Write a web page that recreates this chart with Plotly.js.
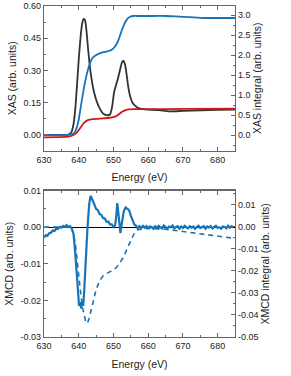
<!DOCTYPE html>
<html><head><meta charset="utf-8">
<script src="https://cdn.plot.ly/plotly-3.0.1.min.js"></script>
<style>body{margin:0;padding:0;background:#fff}#g{width:291px;height:376px}</style>
</head><body><div id="g"></div>
<script>
// XAS (left axis, top panel)
const xasE = [630,634,637,637.8,638.5,639,639.5,640,640.5,641,641.4,641.8,642.2,642.7,643.2,643.7,644.4,645.2,646,647,648,649,649.6,650.2,650.8,651.4,652,652.5,652.9,653.3,653.8,654.3,654.8,655.5,656.3,657.2,658.5,660,663,666,670,675,680,685];
const xasV = [0.000,0.000,0.002,0.010,0.050,0.120,0.230,0.350,0.450,0.520,0.540,0.535,0.490,0.400,0.320,0.260,0.200,0.155,0.125,0.100,0.092,0.095,0.130,0.200,0.235,0.270,0.310,0.340,0.345,0.330,0.280,0.220,0.180,0.150,0.135,0.125,0.120,0.118,0.116,0.110,0.112,0.115,0.117,0.118];
// step function (left axis, top panel)
const stepE = [630,634,637,638.5,639.5,640.5,641.5,642.5,643.5,645,647,649,650.5,651.5,652.5,653.5,654.5,656,660,670,685];
const stepV = [-0.011,-0.010,-0.008,0.000,0.012,0.034,0.056,0.068,0.072,0.075,0.077,0.080,0.085,0.095,0.108,0.116,0.119,0.120,0.120,0.121,0.122];
// XAS integral (right axis, top panel)
const intE = [630,636,637.5,638.4,638.9,639.4,639.9,640.4,640.9,641.4,641.9,642.4,642.9,643.4,643.9,644.6,645.4,646.2,646.9,648,648.9,649.6,650.4,650.9,651.4,651.9,652.4,652.9,653.4,654,654.8,655.8,656.8,660,665,668,672,676,680,685];
const intV = [0.00,0.00,0.01,0.03,0.08,0.18,0.34,0.60,0.87,1.13,1.36,1.55,1.71,1.83,1.92,1.98,2.02,2.05,2.07,2.09,2.11,2.14,2.21,2.28,2.37,2.49,2.62,2.73,2.83,2.91,2.96,2.98,2.98,2.98,2.98,2.97,2.95,2.93,2.93,2.93];
// XMCD (left axis, bottom panel)
const mcdE = [630,630.5,631,631.5,632,632.5,633,633.5,634,634.5,635,635.5,636,636.5,637,637.5,638,638.5,639,639.5,639.8,640.1,640.4,640.7,641,641.3,641.6,642,642.5,643,643.4,643.8,644.2,644.6,645,645.5,646,646.5,647,647.5,648,648.5,649,649.5,650,650.5,650.8,651.1,651.4,651.7,652,652.3,652.7,653,653.5,654,654.5,655,655.5,656,656.5,657,657.5,658,658.5,659,659.5,660,660.5,661,661.5,662,662.5,663,663.5,664,664.5,665,665.5,666,666.5,667,667.5,668,668.5,669,669.5,670,670.5,671,671.5,672,672.5,673,673.5,674,674.5,675,675.5,676,676.5,677,677.5,678,678.5,679,679.5,680,680.5,681,681.5,682,682.5,683,683.5,684,684.5,685];
const mcdV = [-0.0028,-0.0022,-0.0023,-0.0016,-0.0015,-0.0009,-0.0010,-0.0004,-0.0005,0.0001,-0.0001,0.0004,0.0001,0.0006,0.0001,0.0003,-0.0004,-0.0018,-0.0070,-0.0140,-0.0190,-0.0215,-0.0205,-0.0222,-0.0200,-0.0215,-0.0170,-0.0090,-0.0005,0.0062,0.0086,0.0078,0.0066,0.0060,0.0050,0.0047,0.0036,0.0034,0.0025,0.0024,0.0015,0.0016,0.0008,0.0008,0.0001,0.0006,0.0030,0.0066,0.0040,0.0005,-0.0016,0.0005,0.0030,0.0045,0.0054,0.0049,0.0047,0.0032,0.0022,0.0008,0.0004,-0.0003,0.0003,-0.0002,0.0004,-0.0001,0.0003,-0.0003,0.0002,0.0001,-0.0004,0.0003,-0.0002,0.0004,0.0000,-0.0003,0.0005,0.0001,-0.0004,0.0002,0.0000,0.0005,-0.0003,0.0001,0.0003,-0.0004,0.0002,-0.0002,0.0004,0.0000,-0.0003,0.0003,-0.0001,0.0002,-0.0004,0.0001,0.0004,-0.0002,0.0000,0.0003,-0.0004,0.0002,-0.0001,0.0003,-0.0003,0.0001,0.0004,-0.0002,0.0000,-0.0004,0.0002,0.0001,-0.0003,0.0004,-0.0001,0.0003,0.0000];
// XMCD integral (right axis, bottom panel)
const mintE = [630,636,638,639,640,641,642,642.5,643,644,645,646,647,648,649,650,651,652,653,654,655,656,657,660,665,670,675,680,685];
const mintV = [0.0000,0.0000,-0.0005,-0.0070,-0.0220,-0.0360,-0.0430,-0.0438,-0.0415,-0.0345,-0.0285,-0.0245,-0.0222,-0.0212,-0.0205,-0.0195,-0.0182,-0.0160,-0.0135,-0.0096,-0.0058,-0.0028,-0.0012,-0.0006,-0.0010,-0.0020,-0.0030,-0.0042,-0.0052];

const xTicks = [630,640,650,660,670,680];
const blue = '#1874b8', red = '#d01818', dark = '#333333', axc = '#666666';
const tf = {family:'Liberation Sans, Arial, sans-serif', size:9, color:'#222'};
const ttf = {family:'Liberation Sans, Arial, sans-serif', size:10.5, color:'#222'};

const data = [
  {x:xasE, y:xasV, xaxis:'x', yaxis:'y', mode:'lines', line:{color:dark, width:1.8, shape:'spline', smoothing:0.6}},
  {x:stepE, y:stepV, xaxis:'x', yaxis:'y', mode:'lines', line:{color:red, width:1.8, shape:'spline', smoothing:0.6}},
  {x:intE, y:intV, xaxis:'x', yaxis:'y2', mode:'lines', line:{color:blue, width:1.8, shape:'spline', smoothing:0.6}},
  {x:mintE, y:mintV, xaxis:'x2', yaxis:'y4', mode:'lines', line:{color:blue, width:1.6, dash:'5px,4px'}},
  {x:mcdE, y:mcdV, xaxis:'x2', yaxis:'y3', mode:'lines', line:{color:blue, width:2.2}}
];

function xax(anchor){
  return {anchor:anchor, range:[630,685], tickvals:xTicks, ticks:'inside', ticklen:4, tickcolor:axc,
    showline:true, linecolor:axc, linewidth:1.2, mirror:'ticks', showgrid:false, zeroline:false,
    tickfont:tf, title:{text:'Energy (eV)', font:ttf, standoff:10},
    minor:{ticks:'inside', dtick:5, ticklen:2, tickcolor:axc}};
}
function yax(o){
  return Object.assign({ticks:'inside', ticklen:4, tickcolor:axc, showline:true, linecolor:axc, linewidth:1.2,
    showgrid:false, zeroline:false, tickfont:tf}, o);
}

const layout = {
  width:291, height:376, margin:{l:44, r:56, t:6, b:39},
  paper_bgcolor:'#fff', plot_bgcolor:'#fff', showlegend:false,
  xaxis: Object.assign(xax('y'), {domain:[0,1]}),
  xaxis2: Object.assign(xax('y3'), {domain:[0,1]}),
  yaxis: yax({domain:[0.563,1], anchor:'x', range:[-0.073,0.6], tickvals:[0,0.15,0.30,0.45,0.60],
    ticktext:['0.00','0.15','0.30','0.45','0.60'], mirror:true,
    minor:{ticks:'inside', dtick:0.075, ticklen:2, tickcolor:axc},
    title:{text:'XAS (arb. units)', font:ttf, standoff:4}}),
  yaxis2: yax({domain:[0.563,1], anchor:'x', overlaying:'y', side:'right', range:[-0.39,3.23],
    tickvals:[0,0.5,1,1.5,2,2.5,3], ticktext:['0.0','0.5','1.0','1.5','2.0','2.5','3.0'],
    minor:{ticks:'inside', dtick:0.25, ticklen:2, tickcolor:axc},
    title:{text:'XAS integral (arb. units)', font:ttf, standoff:4}}),
  yaxis3: yax({domain:[0,0.442], anchor:'x2', range:[-0.03,0.01], tickvals:[-0.03,-0.02,-0.01,0,0.01],
    ticktext:['-0.03','-0.02','-0.01','0.00','0.01'], mirror:true,
    zeroline:true, zerolinecolor:'#000', zerolinewidth:1.2,
    minor:{ticks:'inside', dtick:0.005, ticklen:2, tickcolor:axc},
    title:{text:'XMCD (arb. units)', font:ttf, standoff:4}}),
  yaxis4: yax({domain:[0,0.442], anchor:'x2', overlaying:'y3', side:'right', range:[-0.05,0.0165],
    tickvals:[-0.05,-0.04,-0.03,-0.02,-0.01,0,0.01], ticktext:['-0.05','-0.04','-0.03','-0.02','-0.01','0.00','0.01'],
    minor:{ticks:'inside', dtick:0.005, ticklen:2, tickcolor:axc},
    title:{text:'XMCD integral (arb. units)', font:ttf, standoff:4}})
};
Plotly.newPlot('g', data, layout, {staticPlot:true, displayModeBar:false});
</script></body></html>
